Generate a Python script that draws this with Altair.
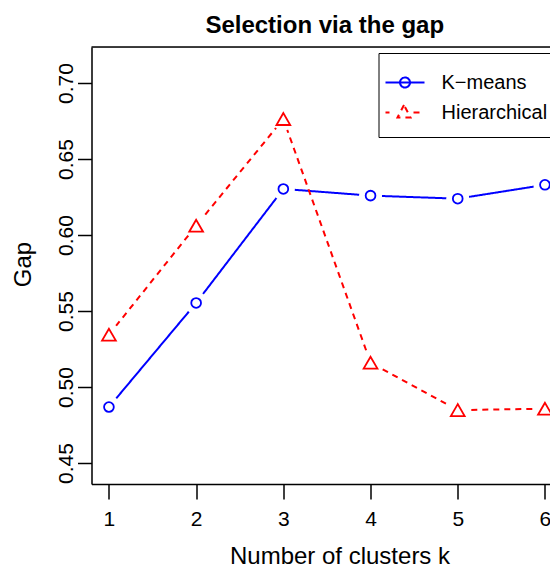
import altair as alt
import pandas as pd

# ---- data ----
k_values = [1, 2, 3, 4, 5, 6]
kmeans_gap = [0.4868, 0.5553, 0.6303, 0.6259, 0.6239, 0.6330]
hier_gap = [0.5344, 0.6061, 0.6763, 0.5160, 0.4848, 0.4857]
series_names = ["K\u2212means", "Hierarchical"]
y_ticks = [0.45, 0.50, 0.55, 0.60, 0.65, 0.70]

df = pd.DataFrame({
    "k": k_values * 2,
    "gap": kmeans_gap + hier_gap,
    "series": [series_names[0]] * len(k_values) + [series_names[1]] * len(k_values),
})

FONT = "Liberation Sans"
BLUE = "#0000FF"
RED = "#FF0000"
PLOT_W = 458.5
PLOT_H = 437

x_scale = alt.Scale(domain=[0.8, 6.058], nice=False, zero=False)
y_scale = alt.Scale(domain=[0.43618, 0.72368], nice=False, zero=False)
color_scale = alt.Scale(domain=series_names, range=[BLUE, RED])

# legend symbols: line + marker, drawn as custom paths
k_path = ("M-1.552,0L1.138,0M-0.552,0A0.345,0.345,0,1,0,0.138,0"
          "A0.345,0.345,0,1,0,-0.552,0")
h_path = ("M-1.552,0L-1.276,0M-0.276,-0.517L-0.724,0.345L0.172,0.345Z"
          "M0.379,0L0.862,0")
legend = alt.Legend(
    title=None, orient="none", legendX=287, legendY=6,
    padding=14, symbolSize=841, rowPadding=4, labelOffset=18,
    labelFontSize=20, labelFont=FONT, labelColor="black",
    strokeColor="black", fillColor="white", symbolStrokeWidth=2,
    symbolOpacity=1, symbolFillColor="transparent",
    symbolDash=[1, 0],
)

x_axis = alt.Axis(
    values=k_values, format="d", grid=False, labelFlush=False,
    tickSize=15, tickWidth=1.5, tickColor="black",
    domain=True, domainColor="black", domainWidth=1.5,
    labelFontSize=21, labelFont=FONT, labelColor="black", labelPadding=9,
    title="Number of clusters k", titleFontSize=24, titleFont=FONT,
    titleFontWeight="normal", titleColor="black",
    titleX=248, titleY=79, titleBaseline="alphabetic", titleAlign="center",
)
y_axis = alt.Axis(
    values=y_ticks, format=".2f", grid=False, labelFlush=False,
    labelAngle=270, labelAlign="center", labelBaseline="alphabetic",
    labelPadding=5.4, tickSize=14, tickWidth=1.5, tickColor="black",
    domain=True, domainColor="black", domainWidth=1.5,
    labelFontSize=21, labelFont=FONT, labelColor="black",
    title="Gap", titleFontSize=24, titleFont=FONT, titleFontWeight="normal",
    titleColor="black", titleAngle=270, titleX=-61.5, titleY=217,
    titleBaseline="alphabetic", titleAlign="center",
)

X = alt.X("k:Q", scale=x_scale, axis=x_axis)
Y = alt.Y("gap:Q", scale=y_scale, axis=y_axis)
C = alt.Color("series:N", scale=color_scale, legend=legend)

base = alt.Chart(df)

lines = base.mark_line(strokeWidth=2).encode(
    x=X, y=Y, color=C,
    strokeDash=alt.StrokeDash(
        "series:N",
        scale=alt.Scale(domain=series_names, range=[[1, 0], [6, 5]]),
        legend=None,
    ),
    detail="series:N",
)

mask = base.mark_point(filled=True, color="white", opacity=1, size=530,
                       shape="circle", strokeWidth=0).encode(x=X, y=Y)

def marker_layer(name, shape, size):
    return base.transform_filter(alt.datum.series == name).mark_point(
        filled=False, strokeWidth=1.8, opacity=1, shape=shape, size=size
    ).encode(x=X, y=Y, color=C)

pts_k = marker_layer(series_names[0], "circle", 95)
pts_h = marker_layer(series_names[1], "triangle-up", 190)

# empty layer that only carries the legend symbols
legend_layer = base.transform_filter(alt.datum.k > 100).mark_point(
    filled=False, size=841, strokeWidth=2
).encode(
    x=X, y=Y, color=C,
    shape=alt.Shape("series:N",
                    scale=alt.Scale(domain=series_names, range=[k_path, h_path]),
                    legend=legend),
)

# top edge of the plot frame (the right edge lies outside the picture)
top_edge = alt.Chart(pd.DataFrame({"edge": ["top"]})).mark_rule(
    color="black", strokeWidth=1.5
).encode(x=alt.value(0), x2=alt.value(PLOT_W), y=alt.value(0))

chart = alt.layer(lines, mask, pts_k, pts_h, legend_layer, top_edge).properties(
    width=PLOT_W,
    height=PLOT_H,
    autosize=alt.AutoSizeParams(type="none"),
    padding={"left": 83.5, "top": 39, "right": 0, "bottom": 84},
    title=alt.TitleParams(
        text="Selection via the gap", fontSize=24, font=FONT,
        fontWeight="bold", color="black", anchor="middle", frame="group",
        offset=15, baseline="alphabetic", dx=4, dy=26,
    ),
).configure_view(stroke=None).configure(font=FONT)

chart.save("out.html", embed_options={"renderer": "svg", "actions": False})
